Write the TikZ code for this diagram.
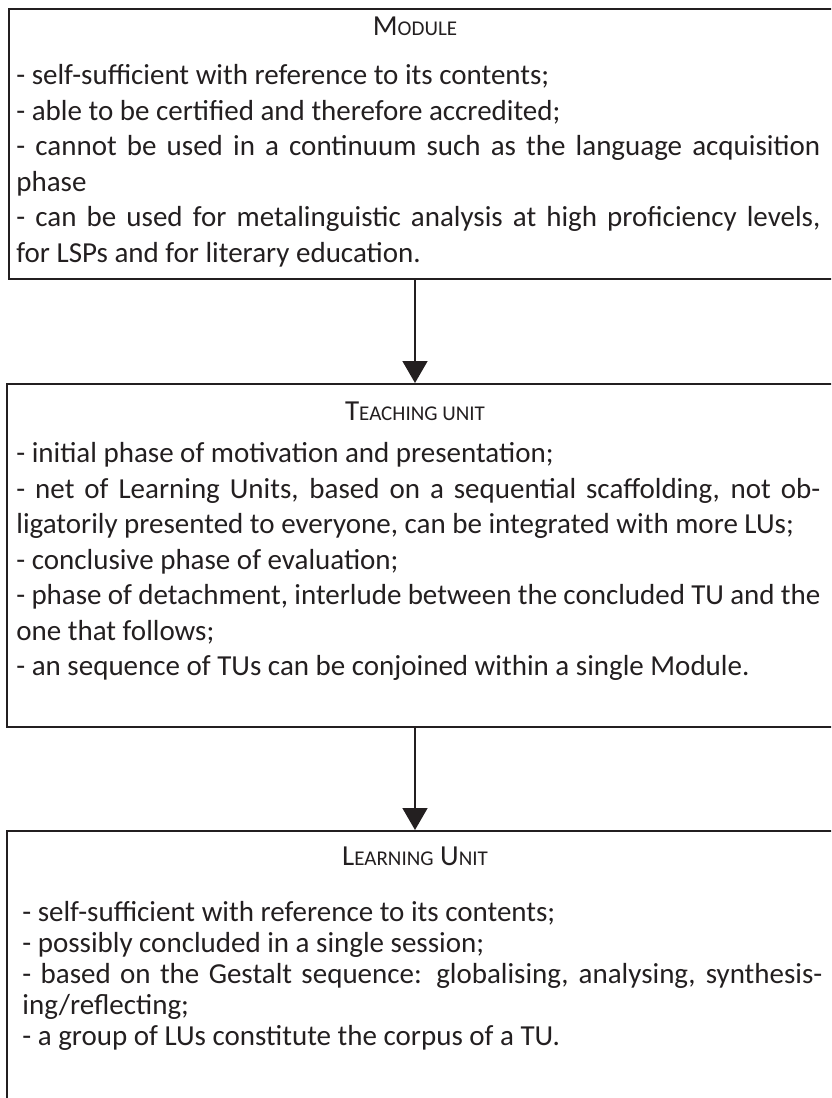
\documentclass[tikz,border=0pt]{standalone}
\usepackage{fontspec}
\setmainfont{Carlito}
\usetikzlibrary{positioning, arrows.meta}
\definecolor{inkblack}{HTML}{231F20}
\newcommand{\fakesc}[2]{#1{\fontsize{10.5}{12}\selectfont #2}}
\tikzstyle{blockBox}=[draw=inkblack, line width=0.9pt, inner sep=0pt, anchor=north west]
\tikzstyle{blockTitle}=[text=inkblack, inner sep=0pt, font=\fontsize{14.5}{17}\selectfont]
\tikzstyle{blockText}=[text=inkblack, align=justify, anchor=north west, inner sep=0pt]
\tikzstyle{flowArrow}=[-{Triangle[length=11pt,width=12.5pt]}, line width=0.8pt, draw=inkblack]

\begin{document}
\begin{tikzpicture}[x=0.5pt, y=-0.5pt]
        \useasboundingbox (0,0) rectangle (831,1098);
        \clip (0,0) rectangle (831,1098);

        \node[blockBox, minimum width=414pt, minimum height=135pt] (module) at (8, 8) {};
        \node[blockBox, minimum width=415pt, minimum height=171.5pt] (teaching) at (6, 383) {};
        \node[blockBox, minimum width=415pt, minimum height=160pt] (learning) at (6, 830) {};

        \node[blockTitle] (moduleTitle) at (415, 26) {\fakesc{M}{ODULE}};
        \node[blockTitle] (teachingTitle) at (415, 411) {\fakesc{T}{EACHING UNIT}};
        \node[blockTitle] (learningTitle) at (415, 856) {\fakesc{L}{EARNING} \fakesc{U}{NIT}};

        \node[blockText, text width=402pt, font=\fontsize{14.5}{17.75}\selectfont] (moduleText) at (16, 64) {%
        - self-sufficient with reference to its contents;\\
        - able to be certified and therefore accredited;\\
        - cannot be used in a continuum such as the language acquisition\linebreak phase\\
        - can be used for metalinguistic analysis at high proficiency levels,\linebreak for LSPs and for literary education.};

        \node[blockText, text width=402pt, font=\fontsize{14.5}{17.75}\selectfont] (teachingText) at (16, 442) {%
        - initial phase of motivation and presentation;\\
        - net of Learning Units, based on a sequential scaffolding, not ob-\linebreak ligatorily presented to everyone, can be integrated with more LUs;\\
        - conclusive phase of evaluation;\\
        - phase of detachment, interlude between the concluded TU and the\linebreak one that follows;\\
        - an sequence of TUs can be conjoined within a single Module.};

        \node[blockText, text width=400pt, font=\fontsize{14.5}{15.5}\selectfont] (learningText) at (22, 901) {%
        - self-sufficient with reference to its contents;\\
        - possibly concluded in a single session;\\
        - based on the Gestalt sequence: globalising, analysing, synthesis-\linebreak ing/reflecting;\\
        - a group of LUs constitute the corpus of a TU.};

        \coordinate (spine) at (415, 0);
        \draw[flowArrow] (module.south -| spine) -- (teaching.north -| spine);
        \draw[flowArrow] (teaching.south -| spine) -- (learning.north -| spine);

\end{tikzpicture}
\end{document}
